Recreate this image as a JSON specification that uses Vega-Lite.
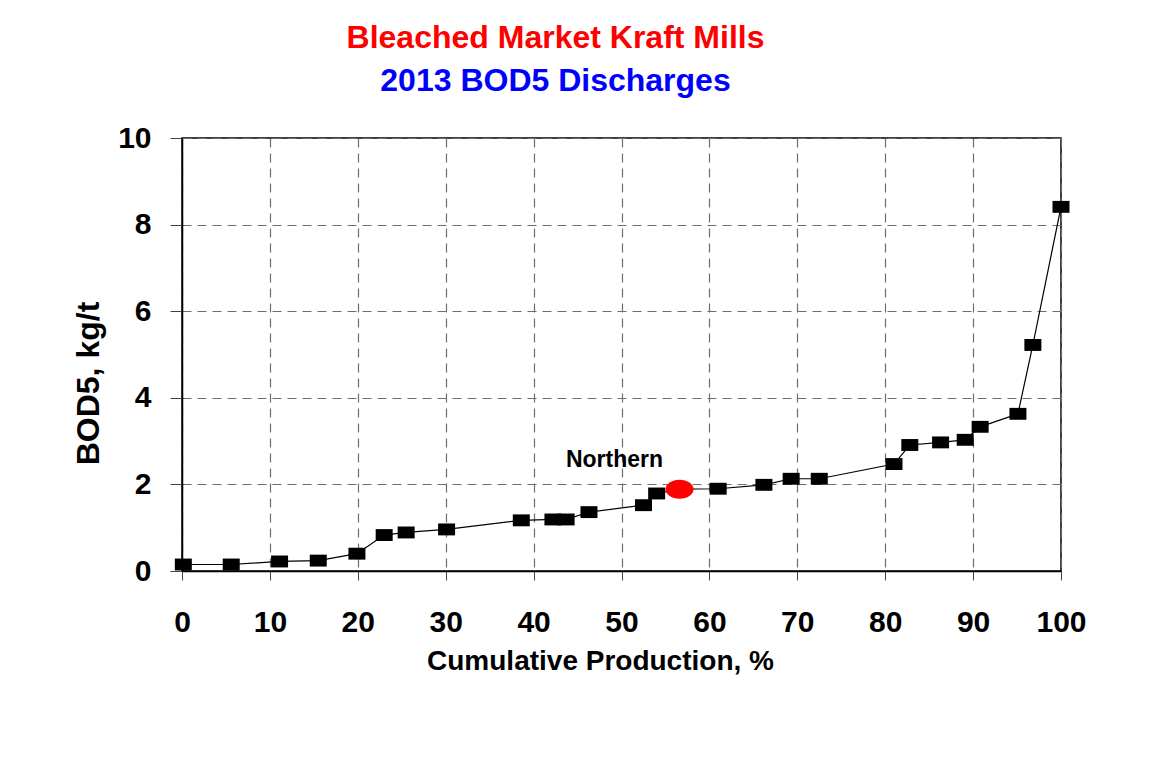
{
  "$schema": "https://vega.github.io/schema/vega-lite/v6.json",
  "width": 879,
  "height": 433,
  "autosize": {"type": "none"},
  "padding": {"left": 182, "top": 138, "right": 96, "bottom": 200},
  "background": "white",
  "config": {
    "font": "Liberation Sans",
    "view": {"stroke": "black", "strokeWidth": 1.5}
  },
  "title": {
    "text": "Bleached Market Kraft Mills",
    "subtitle": "2013 BOD5 Discharges",
    "color": "#ff0000",
    "subtitleColor": "#0000ff",
    "fontSize": 32,
    "subtitleFontSize": 32,
    "fontWeight": "bold",
    "subtitleFontWeight": "bold",
    "font": "Liberation Sans",
    "subtitleFont": "Liberation Sans",
    "anchor": "middle",
    "dx": -66,
    "offset": 25,
    "subtitlePadding": 11
  },
  "data": {
    "values": [
      {"prod": 0.15, "bod": 0.15, "mill": "Other"},
      {"prod": 5.6, "bod": 0.15, "mill": "Other"},
      {"prod": 11.1, "bod": 0.22, "mill": "Other"},
      {"prod": 15.5, "bod": 0.24, "mill": "Other"},
      {"prod": 19.9, "bod": 0.40, "mill": "Other"},
      {"prod": 23.0, "bod": 0.83, "mill": "Other"},
      {"prod": 25.5, "bod": 0.89, "mill": "Other"},
      {"prod": 30.1, "bod": 0.96, "mill": "Other"},
      {"prod": 38.6, "bod": 1.17, "mill": "Other"},
      {"prod": 42.2, "bod": 1.19, "mill": "Other"},
      {"prod": 43.7, "bod": 1.19, "mill": "Other"},
      {"prod": 46.3, "bod": 1.36, "mill": "Other"},
      {"prod": 52.5, "bod": 1.52, "mill": "Other"},
      {"prod": 54.0, "bod": 1.79, "mill": "Other"},
      {"prod": 56.6, "bod": 1.89, "mill": "Northern"},
      {"prod": 61.0, "bod": 1.90, "mill": "Other"},
      {"prod": 66.2, "bod": 1.99, "mill": "Other"},
      {"prod": 69.3, "bod": 2.13, "mill": "Other"},
      {"prod": 72.5, "bod": 2.13, "mill": "Other"},
      {"prod": 81.0, "bod": 2.47, "mill": "Other"},
      {"prod": 82.8, "bod": 2.91, "mill": "Other"},
      {"prod": 86.3, "bod": 2.97, "mill": "Other"},
      {"prod": 89.1, "bod": 3.03, "mill": "Other"},
      {"prod": 90.8, "bod": 3.33, "mill": "Other"},
      {"prod": 95.1, "bod": 3.63, "mill": "Other"},
      {"prod": 96.8, "bod": 5.22, "mill": "Other"},
      {"prod": 100.0, "bod": 8.41, "mill": "Other"}
    ]
  },
  "encoding": {
    "x": {
      "field": "prod",
      "type": "quantitative",
      "scale": {"domain": [0, 100], "nice": false},
      "axis": {
        "title": "Cumulative Production, %",
        "values": [0, 10, 20, 30, 40, 50, 60, 70, 80, 90, 100],
        "grid": true,
        "gridColor": "#6e6e6e",
        "gridDash": [9, 6],
        "gridWidth": 1.2,
        "gridOpacity": 1,
        "domainColor": "black",
        "domainWidth": 1.5,
        "tickColor": "#444444",
        "tickSize": 9,
        "labelFontSize": 30,
        "labelFontWeight": "bold",
        "labelColor": "black",
        "labelPadding": 27,
        "labelFlush": false,
        "titleFontSize": 28,
        "titleFontWeight": "bold",
        "titleColor": "black",
        "titleX": 418,
        "titleY": 98,
        "titleBaseline": "alphabetic",
        "titleAlign": "center"
      }
    },
    "y": {
      "field": "bod",
      "type": "quantitative",
      "scale": {"domain": [0, 10], "nice": false},
      "axis": {
        "title": "BOD5, kg/t",
        "values": [0, 2, 4, 6, 8, 10],
        "grid": true,
        "gridColor": "#6e6e6e",
        "gridDash": [9, 6],
        "gridWidth": 1.2,
        "gridOpacity": 1,
        "domainColor": "black",
        "domainWidth": 1.5,
        "tickColor": "#444444",
        "tickSize": 12,
        "labelFontSize": 30,
        "labelFontWeight": "bold",
        "labelColor": "black",
        "labelPadding": 19,
        "titleFontSize": 32,
        "titleFontWeight": "bold",
        "titleColor": "black",
        "titleAngle": 270,
        "titleX": -84,
        "titleY": 245,
        "titleBaseline": "alphabetic",
        "titleAlign": "center"
      }
    }
  },
  "layer": [
    {
      "mark": {"type": "line", "color": "black", "strokeWidth": 1.2}
    },
    {
      "transform": [{"filter": "datum.mill !== 'Northern'"}],
      "mark": {
        "type": "point",
        "shape": "M-1,-0.7H1V0.7H-1Z",
        "filled": true,
        "color": "black",
        "size": 289,
        "opacity": 1
      }
    },
    {
      "transform": [{"filter": "datum.mill === 'Northern'"}],
      "mark": {
        "type": "point",
        "shape": "M-1,0A1,0.68 0 1,0 1,0A1,0.68 0 1,0 -1,0Z",
        "filled": true,
        "color": "#ff0000",
        "size": 784,
        "opacity": 1
      }
    },
    {
      "transform": [{"filter": "datum.mill === 'Northern'"}],
      "mark": {
        "type": "text",
        "text": "Northern",
        "font": "Liberation Sans",
        "fontSize": 23,
        "fontWeight": "bold",
        "color": "black",
        "dx": -65,
        "dy": -29,
        "align": "center"
      }
    }
  ]
}
